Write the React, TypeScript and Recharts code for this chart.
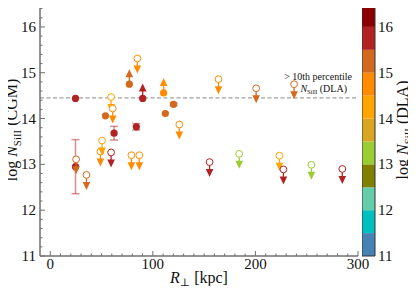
import React from 'react'
import { ComposedChart, Scatter, XAxis, YAxis, ReferenceLine, ReferenceArea, ErrorBar } from 'recharts'

// colour bands of the colorbar (log N_SiII of the DLA)
const bandLow = [11, 11.5, 12, 12.5, 13, 13.5, 14, 14.5, 15, 15.5, 16]
const bandColors = ['#4682b4', '#00bfbf', '#66cdaa', '#808000', '#9acd32', '#daa520', '#ffa500', '#ff8c00', '#d2691e', '#b22222', '#8b0000']
const bandStep = 0.5

// detections (filled circles)
const detR = [24.6, 24.6, 53.8, 62.2, 83.9, 112.2, 120.2]
const detN = [14.44, 12.95, 14.06, 13.68, 13.82, 14.11, 14.31]
const detErr = [0, 0.59, 0, 0.15, 0.07, 0, 0.03]
const detDla = [15.75, 15.75, 15.25, 15.75, 15.75, 15.25, 15.25]

// lower limits (filled circle + up arrow)
const loR = [77.1, 90.1, 110.5]
const loN = [14.75, 14.44, 14.56]
const loDla = [15.25, 15.75, 14.75]

// upper limits (open circle + down arrow)
const upR = [25.2, 35.3, 48.9, 50.5, 59.3, 59.3, 60.9, 79.1, 84.9, 86.8, 125.8, 155.3, 164.0, 184.2, 200.7, 223.4, 227.3, 237.7, 254.6, 284.7]
const upN = [13.11, 12.77, 13.28, 13.52, 13.26, 14.47, 14.22, 13.2, 15.31, 13.2, 13.87, 13.05, 14.86, 13.23, 14.66, 13.19, 12.89, 14.75, 12.99, 12.9]
const upDla = [15.25, 15.25, 14.75, 14.25, 15.75, 14.25, 14.75, 14.75, 14.75, 14.75, 14.75, 15.75, 14.75, 13.25, 15.25, 14.25, 15.75, 15.25, 13.25, 15.75]

const cutoff = 14.45

const xMajor = [0, 100, 200, 300]
const yMajor = [11, 12, 13, 14, 15, 16]
const xTicks = Array.from({ length: 31 }, (_, i) => i * 10)
const yTicks = Array.from({ length: 28 }, (_, i) => Math.round((11 + i * 0.2) * 10) / 10)

const frame = '#707070'
const serif = '"Liberation Serif", "DejaVu Serif", serif'

const detData = detR.map((r, i) => ({ r, n: detN[i], err: detErr[i], dla: detDla[i] }))
const loData = loR.map((r, i) => ({ r, n: loN[i], dla: loDla[i] }))
const upData = upR.map((r, i) => ({ r, n: upN[i], dla: upDla[i] }))
const bandData = bandLow.map((lo, i) => ({ lo, hi: lo + bandStep, color: bandColors[i] }))

const colorFor = (v: number) => {
  const i = bandLow.findIndex(b => v >= b && v < b + bandStep)
  return bandColors[i < 0 ? bandColors.length - 1 : i]
}
const isInt = (v: number) => Math.abs(v - Math.round(v)) < 1e-6

function DetDot({ cx, cy, payload }: any) {
  return <circle cx={cx} cy={cy} r={3.6} fill={colorFor(payload.dla)} />
}

function LowerMark({ cx, cy, payload }: any) {
  const c = colorFor(payload.dla)
  return (
    <g>
      <line x1={cx} x2={cx} y1={cy} y2={cy - 8} stroke={c} strokeWidth={1.3} />
      <polygon points={`${cx - 3.8},${cy - 7} ${cx + 3.8},${cy - 7} ${cx},${cy - 15}`} fill={c} />
      <circle cx={cx} cy={cy} r={3.6} fill={c} />
    </g>
  )
}

function UpperMark({ cx, cy, payload }: any) {
  const c = colorFor(payload.dla)
  return (
    <g>
      <line x1={cx} x2={cx} y1={cy + 3.4} y2={cy + 8} stroke={c} strokeWidth={1.3} />
      <polygon points={`${cx - 3.8},${cy + 7} ${cx + 3.8},${cy + 7} ${cx},${cy + 15}`} fill={c} />
      <circle cx={cx} cy={cy} r={3.4} fill="#fff" stroke={c} strokeWidth={1} />
    </g>
  )
}

function BottomTick({ x, y, payload }: any) {
  const major = xMajor.includes(payload.value)
  return (
    <g>
      <line x1={x} x2={x} y1={y} y2={y - (major ? 5 : 2.5)} stroke={frame} />
      {major && (
        <text x={x} y={y + 13} textAnchor="middle" fontFamily={serif} fontSize={15} fill="#111">
          {payload.value}
        </text>
      )}
    </g>
  )
}

function TopTick({ x, y, payload }: any) {
  const major = xMajor.includes(payload.value)
  return <line x1={x} x2={x} y1={y} y2={y + (major ? 5 : 2.5)} stroke={frame} />
}

function LeftTick({ x, y, payload }: any) {
  const major = isInt(payload.value)
  return (
    <g>
      <line x1={x} x2={x + (major ? 5 : 2.5)} y1={y} y2={y} stroke={frame} />
      {major && (
        <text x={x - 4} y={y + 5} textAnchor="end" fontFamily={serif} fontSize={15} fill="#111">
          {payload.value}
        </text>
      )}
    </g>
  )
}

function RightTick({ x, y, payload }: any) {
  const major = isInt(payload.value)
  return <line x1={x} x2={x - (major ? 5 : 2.5)} y1={y} y2={y} stroke={frame} />
}

function CbTick({ x, y, payload }: any) {
  return (
    <text x={x + 3} y={y + 5} textAnchor="start" fontFamily={serif} fontSize={15} fill="#111">
      {payload.value}
    </text>
  )
}

function NSi({ size }: { size: number }) {
  return (
    <>
      <tspan fontStyle="italic">N</tspan>
      <tspan fontSize={size * 0.68} dy={size * 0.22}>SiII</tspan>
      <tspan dy={-size * 0.22}> </tspan>
    </>
  )
}

function XTitle({ viewBox }: any) {
  return (
    <text x={viewBox.x + viewBox.width / 2} y={283} textAnchor="middle" fontFamily={serif} fontSize={16} fill="#111">
      <tspan fontStyle="italic">R</tspan>
      <tspan fontSize={11} dy={3}>⊥</tspan>
      <tspan dy={-3}> [kpc]</tspan>
    </text>
  )
}

function YTitle({ viewBox }: any) {
  const cy = viewBox.y + viewBox.height / 2
  return (
    <text transform={`translate(17,${cy}) rotate(-90)`} textAnchor="middle" fontFamily={serif} fontSize={16} fill="#111">
      log <NSi size={16} />(CGM)
    </text>
  )
}

function CbTitle({ viewBox }: any) {
  const cy = viewBox.y + viewBox.height / 2
  return (
    <text transform={`translate(46,${cy}) rotate(-90)`} textAnchor="middle" fontFamily={serif} fontSize={16} fill="#111">
      log <NSi size={16} />(DLA)
    </text>
  )
}

function CutoffNote({ viewBox }: any) {
  const right = viewBox.x + viewBox.width
  return (
    <g fontFamily={serif} fontSize={10} fill="#111">
      <text x={right - 6} y={viewBox.y - 18} textAnchor="end">&gt; 10th percentile</text>
      <text x={right - 11} y={viewBox.y - 6} textAnchor="end">
        <NSi size={10} />(DLA)
      </text>
    </g>
  )
}

export default function App() {
  return (
    <div style={{ position: 'relative', width: 416, height: 294, margin: -8 }}>
      <ComposedChart width={416} height={294} margin={{ top: 4, right: 58, bottom: 8, left: 9 }} style={{ overflow: 'visible' }}>
        <XAxis
          xAxisId={0}
          type="number"
          dataKey="r"
          domain={[-10, 300]}
          allowDataOverflow
          ticks={xTicks}
          interval={0}
          tickLine={false}
          tickSize={0}
          tickMargin={0}
          height={30}
          axisLine={{ stroke: frame, strokeWidth: 1.5 }}
          tick={(p: any) => <BottomTick {...p} />}
          label={<XTitle />}
        />
        <XAxis
          xAxisId="top"
          orientation="top"
          type="number"
          dataKey="r"
          domain={[-10, 300]}
          allowDataOverflow
          ticks={xTicks}
          interval={0}
          tickLine={false}
          tickSize={0}
          tickMargin={0}
          height={0}
          axisLine={{ stroke: frame, strokeWidth: 1.5 }}
          tick={(p: any) => <TopTick {...p} />}
        />
        <YAxis
          yAxisId={0}
          type="number"
          dataKey="n"
          domain={[11, 16.5]}
          allowDataOverflow
          ticks={yTicks}
          interval={0}
          tickLine={false}
          tickSize={0}
          tickMargin={0}
          width={31}
          axisLine={{ stroke: frame, strokeWidth: 1.5 }}
          tick={(p: any) => <LeftTick {...p} />}
          label={<YTitle />}
        />
        <YAxis
          yAxisId="right"
          orientation="right"
          type="number"
          dataKey="n"
          domain={[11, 16.5]}
          allowDataOverflow
          ticks={yTicks}
          interval={0}
          tickLine={false}
          tickSize={0}
          tickMargin={0}
          width={0}
          axisLine={{ stroke: frame, strokeWidth: 1.5 }}
          tick={(p: any) => <RightTick {...p} />}
        />
        <ReferenceLine
          y={cutoff}
          stroke="#888"
          strokeWidth={1}
          strokeDasharray="4 2.5"
          label={<CutoffNote />}
        />
        <Scatter data={detData} dataKey="n" shape={(p: any) => <DetDot {...p} />} isAnimationActive={false}>
          <ErrorBar dataKey="err" direction="y" width={4} stroke="#b22222" strokeOpacity={0.5} strokeWidth={1.5} />
        </Scatter>
        <Scatter data={loData} dataKey="n" shape={(p: any) => <LowerMark {...p} />} isAnimationActive={false} />
        <Scatter data={upData} dataKey="n" shape={(p: any) => <UpperMark {...p} />} isAnimationActive={false} />
      </ComposedChart>

      <div style={{ position: 'absolute', left: 362, top: 0 }}>
        <ComposedChart width={54} height={294} data={bandData} margin={{ top: 4, right: 0, bottom: 38, left: 0 }}>
          <XAxis type="number" domain={[0, 1]} hide />
          <YAxis
            orientation="right"
            type="number"
            domain={[11, 16.5]}
            allowDataOverflow
            ticks={yMajor}
            interval={0}
            tickLine={false}
            tickSize={0}
            tickMargin={0}
            width={41}
            axisLine={false}
            tick={(p: any) => <CbTick {...p} />}
            label={<CbTitle />}
          />
          {bandData.map(b => (
            <ReferenceArea key={b.lo} y1={b.lo} y2={b.hi} fill={b.color} fillOpacity={1} stroke="none" ifOverflow="visible" />
          ))}
          <ReferenceArea y1={11} y2={16.5} fill="none" stroke="#333" strokeWidth={1} ifOverflow="visible" />
        </ComposedChart>
      </div>
    </div>
  )
}
